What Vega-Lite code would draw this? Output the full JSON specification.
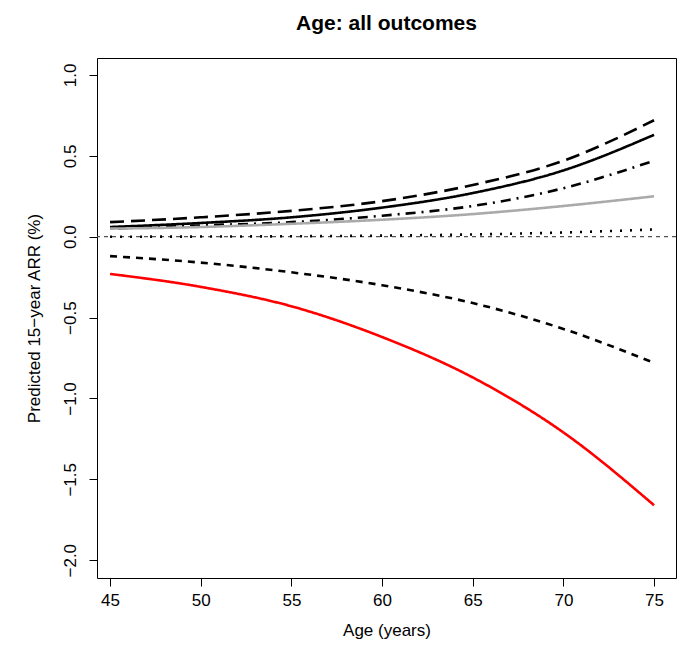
{
  "$schema": "https://vega.github.io/schema/vega-lite/v6.json",
  "width": 579,
  "height": 520,
  "autosize": "none",
  "padding": {"left": 97, "top": 58, "right": 6, "bottom": 78},
  "config": {
    "font": "Liberation Sans",
    "view": {"stroke": "black", "strokeWidth": 1},
    "axis": {"grid": false, "domain": false, "tickColor": "black", "tickSize": 8, "labelFontSize": 17, "labelColor": "black", "titleFontSize": 17, "titleFontWeight": "normal", "titleColor": "black", "labelPadding": 6}
  },
  "title": {"text": "Age: all outcomes", "fontSize": 21, "fontWeight": "bold", "offset": 24, "color": "black"},
  "data": {"values": [
    {"s": "a_solid", "age": 45, "v": 0.06}, {"s": "a_solid", "age": 50, "v": 0.085}, {"s": "a_solid", "age": 55, "v": 0.12}, {"s": "a_solid", "age": 60, "v": 0.18}, {"s": "a_solid", "age": 65, "v": 0.27}, {"s": "a_solid", "age": 70, "v": 0.41}, {"s": "a_solid", "age": 75, "v": 0.63},
    {"s": "b_long", "age": 45, "v": 0.09}, {"s": "b_long", "age": 50, "v": 0.12}, {"s": "b_long", "age": 55, "v": 0.16}, {"s": "b_long", "age": 60, "v": 0.22}, {"s": "b_long", "age": 65, "v": 0.32}, {"s": "b_long", "age": 70, "v": 0.47}, {"s": "b_long", "age": 75, "v": 0.72},
    {"s": "c_dotdash", "age": 45, "v": 0.05}, {"s": "c_dotdash", "age": 50, "v": 0.07}, {"s": "c_dotdash", "age": 55, "v": 0.09}, {"s": "c_dotdash", "age": 60, "v": 0.13}, {"s": "c_dotdash", "age": 65, "v": 0.19}, {"s": "c_dotdash", "age": 70, "v": 0.30}, {"s": "c_dotdash", "age": 75, "v": 0.47},
    {"s": "d_gray", "age": 45, "v": 0.05}, {"s": "d_gray", "age": 50, "v": 0.06}, {"s": "d_gray", "age": 55, "v": 0.08}, {"s": "d_gray", "age": 60, "v": 0.105}, {"s": "d_gray", "age": 65, "v": 0.14}, {"s": "d_gray", "age": 70, "v": 0.19}, {"s": "d_gray", "age": 75, "v": 0.25},
    {"s": "e_dotted", "age": 45, "v": 0.0}, {"s": "e_dotted", "age": 50, "v": 0.001}, {"s": "e_dotted", "age": 55, "v": 0.003}, {"s": "e_dotted", "age": 60, "v": 0.007}, {"s": "e_dotted", "age": 65, "v": 0.014}, {"s": "e_dotted", "age": 70, "v": 0.026}, {"s": "e_dotted", "age": 75, "v": 0.045},
    {"s": "f_dashed", "age": 45, "v": -0.12}, {"s": "f_dashed", "age": 50, "v": -0.16}, {"s": "f_dashed", "age": 55, "v": -0.22}, {"s": "f_dashed", "age": 60, "v": -0.30}, {"s": "f_dashed", "age": 65, "v": -0.41}, {"s": "f_dashed", "age": 70, "v": -0.57}, {"s": "f_dashed", "age": 75, "v": -0.78},
    {"s": "g_red", "age": 45, "v": -0.23}, {"s": "g_red", "age": 50, "v": -0.31}, {"s": "g_red", "age": 55, "v": -0.43}, {"s": "g_red", "age": 60, "v": -0.62}, {"s": "g_red", "age": 65, "v": -0.87}, {"s": "g_red", "age": 70, "v": -1.21}, {"s": "g_red", "age": 75, "v": -1.66}
  ]},
  "layer": [
    {
      "data": {"values": [{"y": 0}]},
      "mark": {"type": "rule", "color": "#555555", "strokeDash": [4, 4], "strokeWidth": 1.2},
      "encoding": {"y": {"field": "y", "type": "quantitative"}}
    },
    {
      "mark": {"type": "line", "interpolate": "monotone", "strokeWidth": 2.6},
      "encoding": {
        "x": {"field": "age", "type": "quantitative", "title": "Age (years)", "scale": {"domain": [44.28, 76.21], "nice": false, "zero": false}, "axis": {"values": [45, 50, 55, 60, 65, 70, 75], "titlePadding": 14}},
        "y": {"field": "v", "type": "quantitative", "title": "Predicted 15\u2212year ARR (%)", "scale": {"domain": [-2.11, 1.105], "nice": false}, "axis": {"values": [-2, -1.5, -1, -0.5, 0, 0.5, 1], "format": ".1f", "labelAngle": -90, "labelAlign": "center", "labelBaseline": "bottom", "labelPadding": 10, "titlePadding": 18, "labelExpr": "replace(datum.label, '-', '\u2212')"}},
        "detail": {"field": "s"},
        "color": {"field": "s", "type": "nominal", "legend": null, "scale": {"domain": ["a_solid", "b_long", "c_dotdash", "d_gray", "e_dotted", "f_dashed", "g_red"], "range": ["black", "black", "black", "#aaaaaa", "black", "black", "#ff0000"]}},
        "strokeDash": {"field": "s", "type": "nominal", "legend": null, "scale": {"domain": ["a_solid", "b_long", "c_dotdash", "d_gray", "e_dotted", "f_dashed", "g_red"], "range": [[1, 0], [14, 7], [2, 6, 10, 6], [1, 0], [2, 8], [7, 6], [1, 0]]}}
      }
    }
  ]
}
